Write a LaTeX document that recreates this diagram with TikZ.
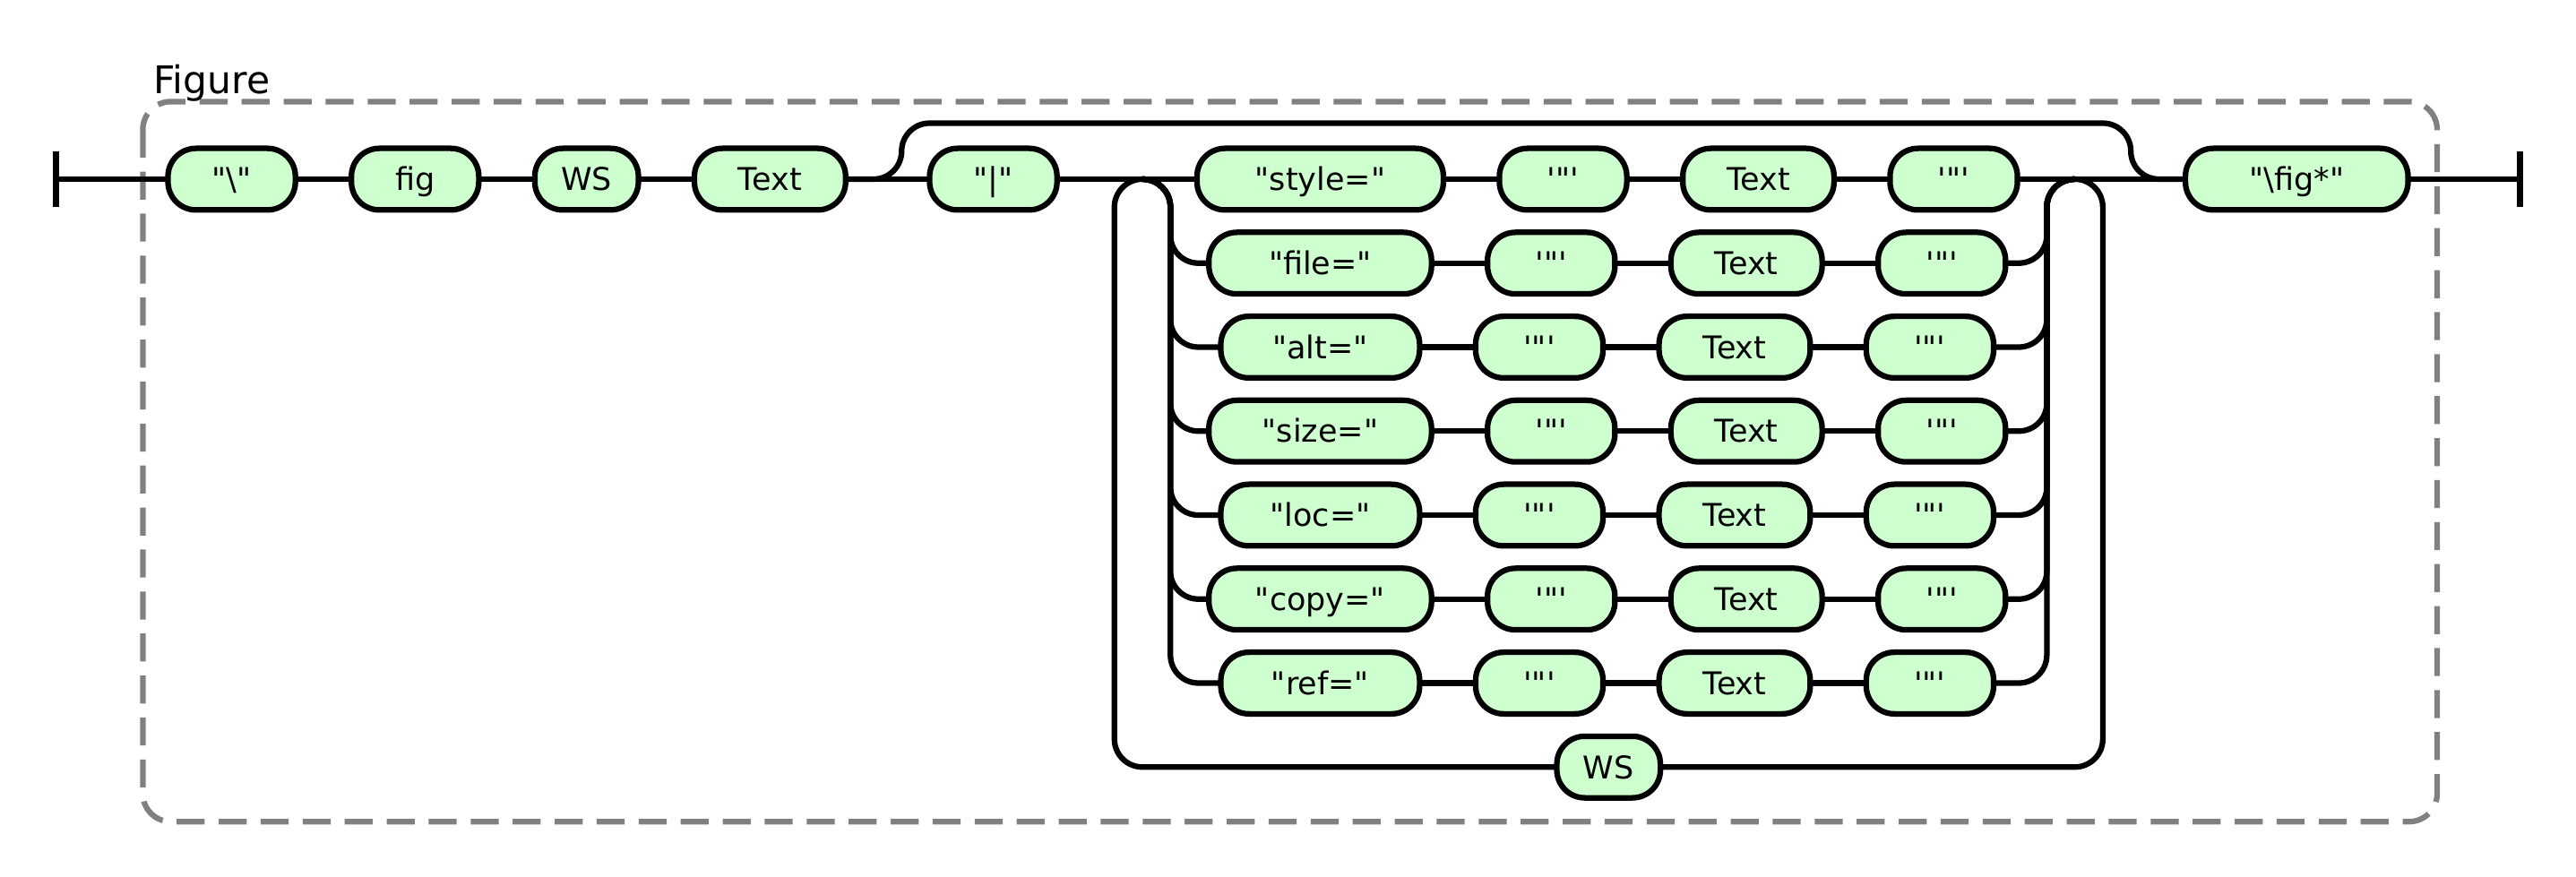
\documentclass[tikz,border=0pt]{standalone}
\usepackage{fontspec}
\newfontfamily\rrfont{DejaVu Sans}
\usetikzlibrary{positioning}
\definecolor{termfill}{RGB}{206,255,206}
\tikzset{
  term/.style={draw,line width=1.5pt,fill=termfill,rounded corners=7.5pt,minimum height=16.5pt,minimum width=#1*0.75pt,inner sep=0pt,outer sep=0pt,text height=6.12pt,text depth=0pt,font=\rrfont\fontsize{8.4}{10}\selectfont},
  rail/.style={line width=1.5pt,rounded corners=7.5pt},
  groupbox/.style={gray,line width=1.5pt,dash pattern=on 7.5pt off 3.75pt,rounded corners=7.5pt}
}
\def\gap{15pt}
\def\rise{15pt}
\def\endbar{7.5pt}

\begin{document}
\begin{tikzpicture}[x=0.75pt,y=-0.75pt]
  \useasboundingbox (0,0) rectangle (920,313);

  % Group
  \draw[groupbox] (51,36.3) rectangle (870.4,293.5);
  \node[anchor=base west,inner sep=0pt,font=\rrfont\fontsize{10.2}{12}\selectfont] (grouplabel) at (54.6,33.6) {Figure};

  % Terminals
  \node[term=45.5] (bs) at (82.75,64) {"\textbackslash"};
  \node[term=45.5,right=\gap of bs] (fig) {fig};
  \node[term=37,right=\gap of fig] (ws) {WS};
  \node[term=54,right=\gap of ws] (text) {Text};
  \node[term=45.5,right=22.5pt of text] (pipe) {"|"};
  \node[term=79.5] (figstar) at (820.25,64) {"\textbackslash fig*"};
  \node[term=37] (wsloop) at (574.5,274) {WS};
  \foreach \r/\kw/\w in {0/style=/88,1/file=/79.5,2/alt=/71,3/size=/79.5,4/loc=/71,5/copy=/79.5,6/ref=/71} {
    \node[term=\w] (kw\r) at (471.5,{64+30*\r}) {"\kw"};
    \node[term=45.5,right=\gap of kw\r] (qa\r) {'"'};
    \node[term=54,right=\gap of qa\r] (tx\r) {Text};
    \node[term=45.5,right=\gap of tx\r] (qb\r) {'"'};
    \draw[rail] (kw\r) -- (qa\r) (qa\r) -- (tx\r) (tx\r) -- (qb\r);
  }

  % Junctions
  \coordinate (start) at (20,64);
  \coordinate (stop) at (900,64);
  \coordinate (byL) at (322,64);
  \coordinate (byR) at (761,64);
  \coordinate (loopL) at (398,64);
  \coordinate (splitL) at (408,64);
  \coordinate (choiceL) at (418,64);
  \coordinate (choiceR) at (731,64);
  \coordinate (splitR) at (741,64);
  \coordinate (loopR) at (751,64);

  % Main line
  \draw[rail] ([yshift=\endbar]start) -- ([yshift=-\endbar]start) ([yshift=\endbar]stop) -- ([yshift=-\endbar]stop);
  \draw[rail] (start) -- (bs) (bs) -- (fig) (fig) -- (ws) (ws) -- (text) (text) -- (pipe) (pipe) -- (kw0) (qb0) -- (figstar) (figstar) -- (stop);
  \draw[rail] (text) -- (byL) -- ([yshift=\rise]byL) -- ([yshift=\rise]byR) -- (byR) -- (figstar);

  % Choice and loop
  \foreach \r in {1,...,6}
    \draw[rail] (splitL) -- (choiceL) -- (choiceL |- kw\r) -- (kw\r) (qb\r) -- (choiceR |- qb\r) -- (choiceR) -- (splitR);
  \draw[rail] (splitL) -- (loopL) -- (loopL |- wsloop) -- (wsloop) (wsloop) -- (loopR |- wsloop) -- (loopR) -- (splitR);
\end{tikzpicture}
\end{document}
